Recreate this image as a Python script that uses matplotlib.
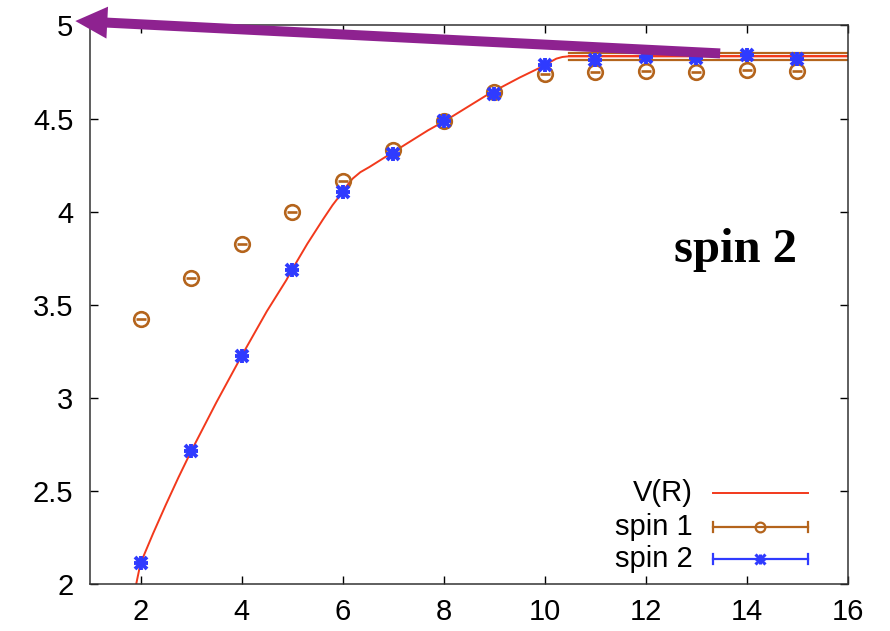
import numpy as np
import matplotlib
matplotlib.use("Agg")
import matplotlib.pyplot as plt

# lattice separations and measured energies
R = [2, 3, 4, 5, 6, 7, 8, 9, 10, 11, 12, 13, 14, 15]
spin1 = [3.423, 3.645, 3.825, 3.998, 4.164, 4.33, 4.485, 4.643, 4.741, 4.751,
         4.755, 4.751, 4.76, 4.755]
spin2 = [2.111, 2.712, 3.225, 3.689, 4.107, 4.312, 4.485, 4.634, 4.786, 4.813,
         4.83, 4.825, 4.843, 4.82]

# static potential V(R)
vr_x = [1.915, 2.0, 2.25, 2.5, 2.75, 3.0, 3.5, 4.0, 4.5, 4.885, 5.0, 5.3, 5.61,
        5.8, 6.0, 6.1, 6.2, 6.35, 6.53, 7.0, 7.69, 8.04, 8.9, 9.5, 10.0, 10.12,
        10.23, 10.35, 10.46, 16.0]
vr_y = [2.0, 2.111, 2.272, 2.425, 2.572, 2.712, 2.975, 3.225, 3.465, 3.632,
        3.689, 3.827, 3.958, 4.035, 4.106, 4.145, 4.178, 4.212, 4.24, 4.32,
        4.437, 4.49, 4.634, 4.72, 4.786, 4.806, 4.822, 4.831, 4.834, 4.834]

# string-breaking plateau and its error band
plateau = 4.834
plateau_err = 0.019
plateau_start = 10.48

xticks = [2, 4, 6, 8, 10, 12, 14, 16]
yticks = [2, 2.5, 3, 3.5, 4, 4.5, 5]
ytick_labels = ["2", "2.5", "3", "3.5", "4", "4.5", "5"]

red = "#f2391c"
brown = "#b4641c"
blue = "#2f3bff"
purple = "#8e2290"

plt.rcParams["font.family"] = ["Liberation Sans", "DejaVu Sans"]

fig = plt.figure(figsize=(8.9, 6.31), dpi=100)
ax = fig.add_axes([0.1011, 0.0745, 0.8517, 0.8851])

ax.plot(vr_x, vr_y, color=red, lw=1.4, zorder=2)

# plateau band
ax.plot([plateau_start, 16], [plateau + plateau_err] * 2, color=brown, lw=1.6, zorder=2)
ax.plot([plateau_start, 16], [plateau - plateau_err] * 2, color=brown, lw=1.6, zorder=2)
ax.plot([plateau_start, 16], [plateau] * 2, color=red, lw=1.4, zorder=2)

# spin 1: open circles with a bar through them
ax.plot(R, spin1, ls="none", marker="o", ms=10.5, mfc="none", mec=brown, mew=1.9, zorder=3)
ax.plot(R, spin1, ls="none", marker="_", ms=6.5, mec=brown, mew=1.9, zorder=3)

# spin 2: star markers
ax.plot(R, spin2, ls="none", marker="x", ms=8.5, mec=blue, mew=2.8, zorder=4)
ax.plot(R, spin2, ls="none", marker="+", ms=10, mec=blue, mew=2.8, zorder=4)

ax.set_xlim(1, 16)
ax.set_ylim(2, 5)
ax.set_xticks(xticks)
ax.set_yticks(yticks)
ax.set_yticklabels(ytick_labels)
ax.tick_params(direction="in", length=6, width=1.0, top=True, right=True,
               labelsize=21, colors="black")
ax.tick_params(axis="y", pad=12)
ax.tick_params(axis="x", pad=10)
for s in ax.spines.values():
    s.set_linewidth(1.1)
    s.set_color("#333333")

# legend in gnuplot fashion: right aligned text, sample to the right
rows = [0.163, 0.102, 0.045]
tx, x0, x1, xm = 0.7955, 0.822, 0.947, 0.884
trans = ax.transAxes
ax.text(tx, rows[0], "V(R)", transform=trans, ha="right", va="center", fontsize=21)
ax.plot([x0, x1], [rows[0]] * 2, color=red, lw=1.4, transform=trans)
for y, lab, col in [(rows[1], "spin 1", brown), (rows[2], "spin 2", blue)]:
    ax.text(tx, y, lab, transform=trans, ha="right", va="center", fontsize=21)
    ax.plot([x0, x1], [y, y], color=col, lw=1.6, transform=trans)
    ax.plot([x0, x0], [y - 0.009, y + 0.009], color=col, lw=1.6, transform=trans)
    ax.plot([x1, x1], [y - 0.009, y + 0.009], color=col, lw=1.6, transform=trans)
ax.plot([xm], [rows[1]], marker="o", ms=7, mfc="none", mec=brown, mew=1.6, transform=trans)
ax.plot([xm], [rows[2]], marker="x", ms=6.5, mec=blue, mew=2.2, transform=trans)
ax.plot([xm], [rows[2]], marker="+", ms=7.5, mec=blue, mew=2.2, transform=trans)

ax.text(0.851, 0.598, "spin 2", transform=trans, ha="center", va="center",
        fontsize=35, fontweight="bold", family=["Liberation Serif", "DejaVu Serif"])

# big arrow pointing at the threshold
ax.annotate("", xy=(0.71, 5.024), xytext=(13.47, 4.85), annotation_clip=False,
            arrowprops=dict(arrowstyle="simple,head_width=2.3,head_length=2.3,tail_width=0.72",
                            color=purple, mutation_scale=10, shrinkA=0, shrinkB=0,
                            lw=0),
            zorder=6)

fig.savefig("out.png", dpi=100)
